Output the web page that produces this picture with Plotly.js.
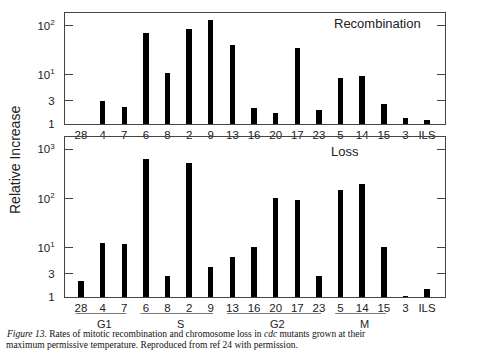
<!DOCTYPE html>
<html><head><meta charset="utf-8">
<script src="https://cdn.plot.ly/plotly-3.0.1.min.js"></script>
<style>html,body{margin:0;padding:0;background:#fff}#chart{width:480px;height:360px}</style>
</head><body><div id="chart"></div>
<script>
const mutants = ['28','4','7','6','8','2','9','13','16','20','17','23','5','14','15','3','ILS'];
const recombination = [null,3.0,2.2,71,11,85,131,41,2.1,1.66,36,1.94,8.7,9.7,2.6,1.35,1.19];
const loss = [2.1,12.6,11.9,645,2.65,534,4.0,6.4,10.6,101,92,2.7,148,196,10.2,1.03,1.46];
const topTicks = [1,3,10,100];
const topTickText = ['1','3','10<sup>1</sup>','10<sup>2</sup>'];
const botTicks = [1,3,10,100,1000];
const botTickText = ['1','3','10<sup>1</sup>','10<sup>2</sup>','10<sup>3</sup>'];
const groups = [
  {name:'G1', first:'28', last:'7'},
  {name:'S', first:'6', last:'9'},
  {name:'G2', first:'13', last:'23'},
  {name:'M', first:'5', last:'15'}
];

const font = 'Liberation Sans, Arial, sans-serif';
const serif = 'Liberation Serif, Times New Roman, serif';
const axisCol = '#444';
const traces = [
  {type:'bar', x:mutants, y:recombination, xaxis:'x', yaxis:'y', marker:{color:'#000'}, width:0.25, hoverinfo:'none'},
  {type:'bar', x:mutants, y:loss, xaxis:'x2', yaxis:'y2', marker:{color:'#000'}, width:0.25, hoverinfo:'none'}
];
const xr = [-0.74, 16.83];
const xd = [65/480, 445/480];
const topD = [1-124/360, 1-13/360];
const botD = [1-297/360, 1-137/360];
const xBase = {type:'category', range:xr, domain:xd, showgrid:false, zeroline:false, ticks:'', showline:true, linecolor:axisCol, linewidth:1, mirror:true,
  tickfont:{family:font, size:11.5, color:'#222'}, fixedrange:true, ticklabelstandoff:0};
const yBase = {type:'log', showgrid:false, zeroline:false, ticks:'inside', ticklen:8, tickcolor:axisCol, tickwidth:1, showline:true, linecolor:axisCol, linewidth:1, mirror:'ticks',
  tickfont:{family:font, size:11.5, color:'#222'}, fixedrange:true, ticklabelstandoff:7};
const shapes = groups.map(g => {
  const i0 = mutants.indexOf(g.first), i1 = mutants.indexOf(g.last);
  return {type:'line', xref:'x2', yref:'paper', x0:i0-0.25, x1:i1+0.1, y0:1-313.5/360, y1:1-313.5/360, line:{color:'#777', width:1}};
});
const annotations = groups.map(g => {
  const i0 = mutants.indexOf(g.first), i1 = mutants.indexOf(g.last);
  return {xref:'x2', yref:'paper', x:(i0+i1)/2+0.1, y:1-323.5/360, text:g.name, showarrow:false, font:{family:font, size:11, color:'#222'}, xanchor:'center', yanchor:'middle'};
});
annotations.push(
  {xref:'paper', yref:'paper', x:377/480, y:1-24/360, text:'Recombination', showarrow:false, font:{family:font, size:13, color:'#222'}, xanchor:'center', yanchor:'middle'},
  {xref:'paper', yref:'paper', x:345/480, y:1-151/360, text:'Loss', showarrow:false, font:{family:font, size:13, color:'#222'}, xanchor:'center', yanchor:'middle'},
  {xref:'paper', yref:'paper', x:15/480, y:1-160/360, text:'Relative Increase', textangle:-90, showarrow:false, font:{family:font, size:14, color:'#222'}, xanchor:'center', yanchor:'middle'},
  {xref:'paper', yref:'paper', x:4/480, y:1-334/360, text:'<i>Figure 13.</i> Rates of mitotic recombination and chromosome loss in <i>cdc</i> mutants grown at their', showarrow:false, font:{family:serif, size:9.5, color:'#111'}, xanchor:'left', yanchor:'middle'},
  {xref:'paper', yref:'paper', x:4/480, y:1-344.5/360, text:'maximum permissive temperature. Reproduced from ref 24 with permission.', showarrow:false, font:{family:serif, size:9.5, color:'#111'}, xanchor:'left', yanchor:'middle'}
);
const layout = {
  width:480, height:360, margin:{l:0,r:0,t:0,b:0}, paper_bgcolor:'#fff', plot_bgcolor:'#fff', showlegend:false, bargap:0,
  xaxis: Object.assign({}, xBase, {anchor:'y'}),
  xaxis2: Object.assign({}, xBase, {anchor:'y2'}),
  yaxis: Object.assign({}, yBase, {domain:topD, range:[0,2.26], tickvals:topTicks, ticktext:topTickText, anchor:'x'}),
  yaxis2: Object.assign({}, yBase, {domain:botD, range:[0,3.25], tickvals:botTicks, ticktext:botTickText, anchor:'x2'}),
  shapes: shapes, annotations: annotations
};
Plotly.newPlot('chart', traces, layout, {displayModeBar:false, staticPlot:true});
</script></body></html>
